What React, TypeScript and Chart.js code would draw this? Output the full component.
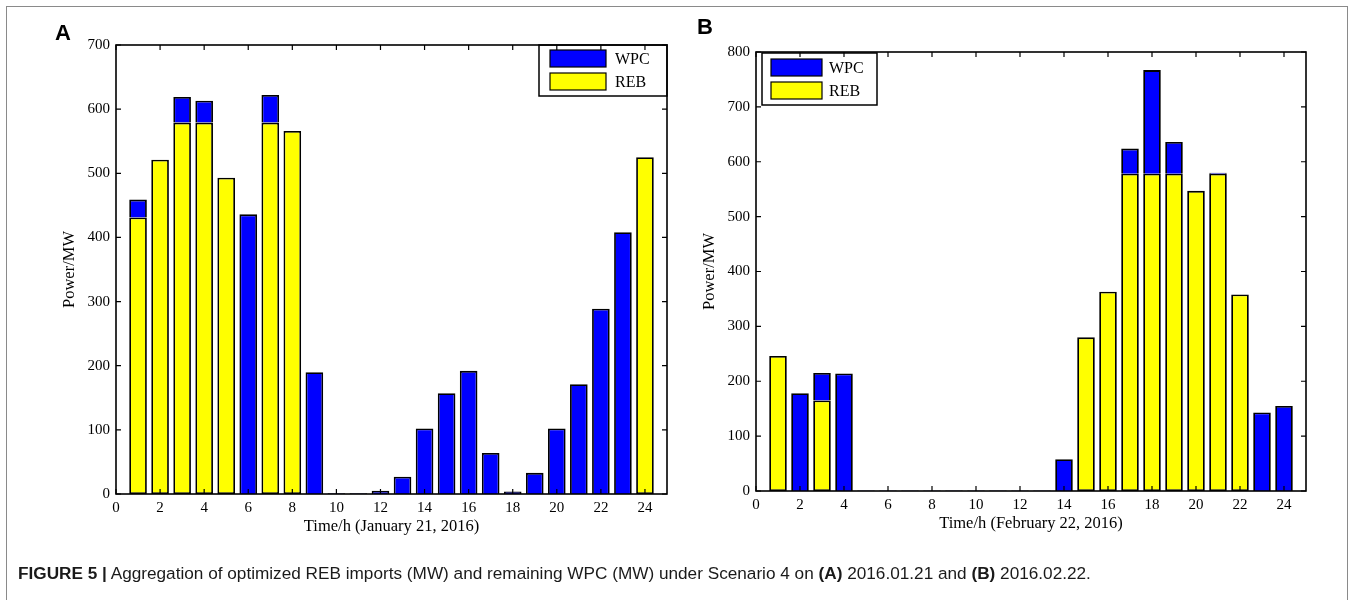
import React, { useEffect, useRef } from "react";
import { Chart, registerables } from "chart.js";

Chart.register(...registerables);

// ---------- data ----------
const hours = [1, 2, 3, 4, 5, 6, 7, 8, 9, 10, 11, 12, 13, 14, 15, 16, 17, 18, 19, 20, 21, 22, 23, 24];

// Panel A: January 21, 2016
const rebJan = [431, 521, 579, 579, 493, 0, 579, 566, 0, 0, 0, 0, 0, 0, 0, 0, 0, 0, 0, 0, 0, 0, 0, 525];
const wpcJan = [28, 0, 40, 34, 0, 436, 43, 0, 190, 1, 1, 5, 27, 102, 157, 192, 64, 4, 33, 102, 171, 289, 408, 0];

// Panel B: February 22, 2016
const rebFeb = [246, 0, 165, 0, 0, 0, 0, 0, 0, 0, 0, 0, 0, 0, 280, 363, 578, 578, 578, 547, 578, 358, 0, 0];
const wpcFeb = [0, 178, 50, 214, 1, 1, 1, 1, 1, 1, 1, 1, 1, 58, 0, 0, 46, 189, 58, 0, 2, 0, 143, 155];

const xTickValues = [0, 2, 4, 6, 8, 10, 12, 14, 16, 18, 20, 22, 24];
const yTicksJan = [0, 100, 200, 300, 400, 500, 600, 700];
const yTicksFeb = [0, 100, 200, 300, 400, 500, 600, 700, 800];

const seriesLabels = { reb: "REB", wpc: "WPC" };
const seriesColors = { reb: "#ffff00", wpc: "#0000ff" };

const yTitle = "Power/MW";
const xTitleJan = "Time/h (January 21, 2016)";
const xTitleFeb = "Time/h (February 22, 2016)";
const captionBold = "FIGURE 5 |";

// ---------- layout ----------
const W = 1354;
const H = 600;
const Y_AXIS_W = 56;
const X_AXIS_H = 43;

const panels = [
  {
    key: "A",
    reb: rebJan,
    wpc: wpcJan,
    yTicks: yTicksJan,
    xTitle: xTitleJan,
    area: { left: 116, top: 45, right: 667, bottom: 494 },
    legend: { x: 539, y: 45, w: 128, h: 51, padX: 11, padY: 5, rowH: 23, swW: 56, swH: 17, gap: 9 },
    letter: { left: 55, top: 22 },
  },
  {
    key: "B",
    reb: rebFeb,
    wpc: wpcFeb,
    yTicks: yTicksFeb,
    xTitle: xTitleFeb,
    area: { left: 756, top: 52, right: 1306, bottom: 491 },
    legend: { x: 762, y: 53, w: 115, h: 52, padX: 9, padY: 6, rowH: 23, swW: 51, swH: 17, gap: 7 },
    letter: { left: 697, top: 16 },
  },
];

const SERIF = "'Liberation Serif', 'Times New Roman', serif";

const matlabAxes = {
  id: "matlabAxes",
  afterDatasetsDraw(chart: any, _args: any, opts: any) {
    const { ctx, chartArea: a, scales } = chart;
    const xs = scales.x;
    const ys = scales.y;
    ctx.save();
    // legend
    const lg = opts.legend;
    if (lg) {
      ctx.fillStyle = "#ffffff";
      ctx.fillRect(lg.x, lg.y, lg.w, lg.h);
      ctx.lineWidth = 1.5;
      ctx.strokeStyle = "#000";
      ctx.strokeRect(lg.x, lg.y, lg.w, lg.h);
      const items = chart.data.datasets.slice().reverse();
      items.forEach((ds: any, i: number) => {
        const sx = lg.x + lg.padX;
        const sy = lg.y + lg.padY + i * lg.rowH;
        ctx.fillStyle = ds.backgroundColor;
        ctx.fillRect(sx, sy, lg.swW, lg.swH);
        ctx.lineWidth = 1.2;
        ctx.strokeStyle = "#000";
        ctx.strokeRect(sx, sy, lg.swW, lg.swH);
        ctx.fillStyle = "#000";
        ctx.font = `16px ${SERIF}`;
        ctx.textBaseline = "middle";
        ctx.textAlign = "left";
        ctx.fillText(ds.label, sx + lg.swW + lg.gap, sy + lg.swH / 2 + 1);
      });
    }
    // axes box
    ctx.strokeStyle = "#000";
    ctx.lineWidth = 1.6;
    ctx.strokeRect(a.left, a.top, a.right - a.left, a.bottom - a.top);
    // inward ticks on all four sides
    const L = 5;
    ctx.lineWidth = 1.2;
    ctx.beginPath();
    xs.ticks.forEach((t: any) => {
      const px = xs.getPixelForValue(t.value);
      ctx.moveTo(px, a.bottom);
      ctx.lineTo(px, a.bottom - L);
      ctx.moveTo(px, a.top);
      ctx.lineTo(px, a.top + L);
    });
    ys.ticks.forEach((t: any) => {
      const py = ys.getPixelForValue(t.value);
      ctx.moveTo(a.left, py);
      ctx.lineTo(a.left + L, py);
      ctx.moveTo(a.right, py);
      ctx.lineTo(a.right - L, py);
    });
    ctx.stroke();
    ctx.restore();
  },
};

function makeConfig(p: any): any {
  const barStyle = {
    borderColor: "#000000",
    borderWidth: 1.8,
    barPercentage: 0.8,
    categoryPercentage: 1,
  };
  return {
    type: "bar",
    data: {
      datasets: [
        {
          label: seriesLabels.reb,
          data: hours.map((h, i) => ({ x: h, y: p.reb[i] })),
          backgroundColor: seriesColors.reb,
          borderSkipped: false,
          ...barStyle,
        },
        {
          label: seriesLabels.wpc,
          data: hours.map((h, i) => ({ x: h, y: p.wpc[i] })),
          backgroundColor: seriesColors.wpc,
          borderSkipped: "start",
          ...barStyle,
        },
      ],
    },
    options: {
      responsive: false,
      maintainAspectRatio: false,
      animation: false,
      events: [],
      layout: {
        padding: {
          left: p.area.left - Y_AXIS_W,
          top: p.area.top,
          right: W - p.area.right,
          bottom: H - p.area.bottom - X_AXIS_H,
        },
      },
      plugins: {
        legend: { display: false },
        tooltip: { enabled: false },
        matlabAxes: { legend: p.legend },
      },
      scales: {
        x: {
          type: "linear",
          min: 0,
          max: 25,
          stacked: true,
          offset: false,
          grid: { display: false, drawTicks: false, tickLength: 0 },
          border: { display: false },
          ticks: {
            padding: 5,
            color: "#000",
            autoSkip: false,
            maxRotation: 0,
            font: { family: SERIF, size: 15 },
          },
          afterBuildTicks: (s: any) => {
            s.ticks = xTickValues.map((v) => ({ value: v }));
          },
          afterFit: (s: any) => {
            s.height = X_AXIS_H;
          },
          title: {
            display: true,
            text: p.xTitle,
            color: "#000",
            padding: 0,
            font: { family: SERIF, size: 16.5 },
          },
        },
        y: {
          type: "linear",
          min: 0,
          max: p.yTicks[p.yTicks.length - 1],
          stacked: true,
          grid: { display: false, drawTicks: false, tickLength: 0 },
          border: { display: false },
          ticks: {
            padding: 6,
            color: "#000",
            autoSkip: false,
            font: { family: SERIF, size: 15 },
          },
          afterBuildTicks: (s: any) => {
            s.ticks = p.yTicks.map((v: number) => ({ value: v }));
          },
          afterFit: (s: any) => {
            s.width = Y_AXIS_W;
          },
          title: {
            display: true,
            text: yTitle,
            color: "#000",
            padding: 0,
            font: { family: SERIF, size: 16.5 },
          },
        },
      },
    },
    plugins: [matlabAxes],
  };
}

function Panel({ p }: { p: any }) {
  const ref = useRef<HTMLCanvasElement | null>(null);
  useEffect(() => {
    if (!ref.current) return;
    const chart = new Chart(ref.current, makeConfig(p));
    return () => chart.destroy();
  }, [p]);
  return (
    <canvas
      ref={ref}
      width={W}
      height={H}
      style={{ position: "absolute", left: 0, top: 0, width: W, height: H }}
    />
  );
}

export default function App() {
  return (
    <div
      style={{
        position: "absolute",
        left: 0,
        top: 0,
        width: W,
        height: H,
        overflow: "hidden",
        background: "#fff",
      }}
    >
      <div
        style={{
          position: "absolute",
          left: 6,
          top: 6,
          width: 1342,
          height: 620,
          border: "1px solid #8a8a8a",
          boxSizing: "border-box",
        }}
      />
      {panels.map((p) => (
        <Panel key={p.key} p={p} />
      ))}
      {panels.map((p) => (
        <div
          key={"l" + p.key}
          style={{
            position: "absolute",
            left: p.letter.left,
            top: p.letter.top,
            fontFamily: "'Liberation Sans', Arial, sans-serif",
            fontWeight: 700,
            fontSize: 22,
            lineHeight: "22px",
            color: "#000",
          }}
        >
          {p.key}
        </div>
      ))}
      <div
        style={{
          position: "absolute",
          left: 18,
          top: 564,
          whiteSpace: "nowrap",
          fontFamily: "'Liberation Sans', Arial, sans-serif",
          fontSize: 17.2,
          lineHeight: "18px",
          color: "#1a1a1a",
        }}
      >
        <b>{captionBold}</b> Aggregation of optimized REB imports (MW) and remaining WPC (MW) under
        Scenario 4 on <b>(A)</b> 2016.01.21 and <b>(B)</b> 2016.02.22.
      </div>
    </div>
  );
}
